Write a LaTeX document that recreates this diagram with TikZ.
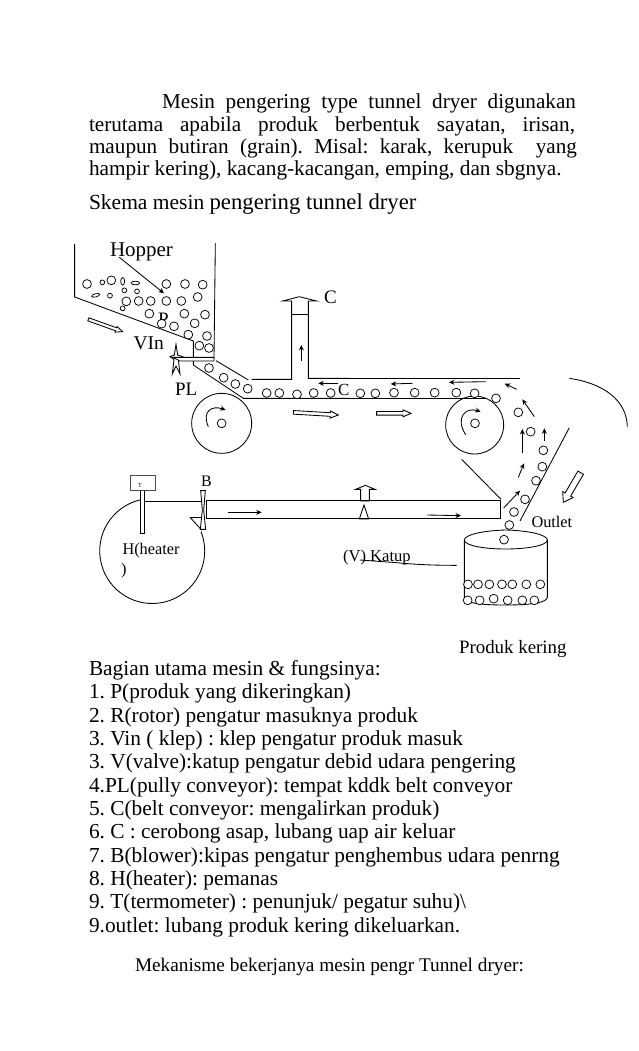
\documentclass[tikz,border=0pt]{standalone}
\usepackage{fontspec}
\setmainfont{Liberation Serif}
\usetikzlibrary{calc,arrows.meta}
\tikzset{
  txt/.style={anchor=base west,inner sep=0pt,outer sep=0pt,font=\fontsize{#1}{#1}\selectfont\frenchspacing},
  ln/.style={line width=0.85pt,line join=miter},
  ball/.style={draw,line width=0.75pt,fill=white},
  arr/.style={line width=0.85pt,-{Stealth[length=5.5pt,width=5pt]}},
  zone1/.style={shift={(60pt,-230pt)},x=.33333pt,y=-.33333pt},
  zone2/.style={shift={(340pt,-360pt)},x=.33333pt,y=-.33333pt},
  zone3/.style={shift={(90pt,-450pt)},x=.33333pt,y=-.33333pt},
  zone4/.style={shift={(330pt,-480pt)},x=.33333pt,y=-.33333pt},
}
\newcommand\hollowarrow[5]{%
  \coordinate (ha) at #1; \coordinate (hb) at #2;
  \coordinate (hm) at ($(hb)!#5!(ha)$);
  \draw[ln,fill=white] ($(ha)!#3!90:(hb)$) -- ($(hm)!#3!90:(hb)$) -- ($(hm)!#4!90:(hb)$) -- (hb)
    -- ($(hm)!#4!-90:(hb)$) -- ($(hm)!#3!-90:(hb)$) -- ($(ha)!#3!-90:(hb)$) -- cycle;}
\begin{document}
\begin{tikzpicture}[x=1pt,y=-1pt]
\useasboundingbox[fill=white] (0,0) rectangle (638,1051);
% body text
\node[txt=21.2] (p1) at (162,109) {\makebox[414pt][s]{Mesin pengering type tunnel dryer digunakan}};
\node[txt=21.2] (p2) at (89,131.5) {\makebox[486pt][s]{terutama apabila produk berbentuk sayatan, irisan,}};
\node[txt=21.2] (p3) at (89,154) {\makebox[488pt][s]{maupun butiran (grain). Misal: karak, kerupuk\ \ yang}};
\node[txt=21.3] (p4) at (89,175.5) {hampir kering), kacang-kacangan, emping, dan sbgnya.};
\node[txt=21.5] (p5) at (89,209) {Skema mesin {\fontsize{22.7}{22.7}\selectfont pengering tunnel dryer}};
% list
\node[txt=21.35] (l0) at (89,675) {Bagian utama mesin \& fungsinya:};
\node[txt=21.35] (l1) at (89,698) {1. P(produk yang dikeringkan)};
\node[txt=21.35] (l2) at (89,722) {2. R(rotor) pengatur masuknya produk};
\node[txt=21.35] (l3) at (89,745) {3. Vin ( klep) : klep pengatur produk masuk};
\node[txt=21.35] (l4) at (89,768) {3. V(valve):katup pengatur debid udara pengering};
\node[txt=21.35] (l5) at (89,792) {4.PL(pully conveyor): tempat kddk belt conveyor};
\node[txt=21.35] (l6) at (89,815) {5. C(belt conveyor: mengalirkan produk)};
\node[txt=21.35] (l7) at (89,838) {6. C : cerobong asap, lubang uap air keluar};
\node[txt=21.35] (l8) at (89,862) {7. B(blower):kipas pengatur penghembus udara penrng};
\node[txt=21.35] (l9) at (89,885) {8. H(heater): pemanas};
\node[txt=21.35] (l10) at (89,908) {9. T(termometer) : penunjuk/ pegatur suhu)\textbackslash};
\node[txt=21.35] (l11) at (89,932) {9.outlet: lubang produk kering dikeluarkan.};
\node[txt=19.3] (l12) at (135,971) {Mekanisme bekerjanya mesin pengr Tunnel dryer:};
% labels
\node[txt=21] (hop) at (110,256) {Hopper};
\node[txt=19] (P) at (158,325) {P};
\node[txt=19.5] (vin) at (133.5,349) {VIn};
\node[txt=19] (pl) at (175,395) {PL};
\node[txt=19] (c1) at (324,303) {C};
\node[txt=17] (c2) at (338,395) {C};
\node[txt=16] (b) at (201,486) {B};
\node[txt=16.3] (h1) at (122.5,554) {H(heater};
\node[txt=16.3] (h2) at (121,574) {)};
\node[txt=16.3] (out) at (531.5,527) {Outlet};
\node[txt=16.6] (kat) at (343,561) {(V) Katup};
\node[txt=18.9] (kering) at (459,653) {Produk kering};
\node[txt=6] (tt) at (138,487) {T};
% zone 1 : hopper and chimney
\begin{scope}[zone1]
\draw[ln] (44,42) -- (44,201) -- (400,333) -- (400,405) -- (550,505) -- (870,505);
\draw[ln] (466,40) -- (462,385) -- (400,385);
\draw[ln] (468,392) -- (565,450);
\draw[ln] (575,448) -- (695,448) -- (695,253) -- (695,213) -- (668,213) -- (718,200) -- (770,213) -- (745,213) -- (745,445) -- (870,445);
\draw[ln] (695,253) -- (745,253);
\draw[arr] (178,82) -- (312,190);
\hollowarrow{(85,268)}{(188,305)}{1.6pt}{3pt}{7pt}
\hollowarrow{(700,547)}{(835,555)}{1.8pt}{3.5pt}{8pt}
\draw[arr] (724,392) -- (724,345);
\draw[arr] (835,460) -- (775,460);
% valve star
\draw[ln,fill=white] (348,343) -- (353,375) -- (368,380) -- (355,388) -- (360,432) -- (348,408) -- (337,432) -- (342,388) -- (330,380) -- (343,375) -- cycle;
\draw[ln,fill=white] (338,382) -- (462,382) -- (462,393) -- (360,393) -- cycle;
\foreach \x/\y in {81/162,154/151,319/162,375/162,428/164,199/214,236/213,272/213,319/213,364/213,413/201,268/251,373/251,435/254,305/281,342/289,404/280,385/314,441/318,418/347,447/354,447/414,491/443,526/462,563/476,620/489,658/489,711/493,761/489,812/489}
  \draw[ball] (\x,\y) circle[radius=4.4pt];
\foreach \x/\y in {127/157,150/197,193/181,231/184,188/235}
  \draw[ball] (\x,\y) circle[radius=2.4pt];
\draw[ball] (188,154) ellipse[x radius=2pt,y radius=3.8pt];
\draw[ball] (226,159) ellipse[x radius=4.2pt,y radius=1.8pt];
\draw[ball,rotate around={15:(107,196)}] (107,196) ellipse[x radius=4.2pt,y radius=1.6pt];
% left pulley
\draw[ln] (485,580) circle[radius=30pt];
\draw[ball] (485,580) circle[radius=4.4pt];
\draw[arr] (445,590) .. controls (425,545) and (455,525) .. (497,540);
\end{scope}
% zone 2 : right end of the belt and the outlet
\begin{scope}[zone2]
\draw[ln] (0,55) -- (540,55);
\draw[ln] (0,115) -- (440,115);
\draw[ln] (688,55) .. controls (790,70) and (860,120) .. (862,200);
\draw[ln] (404,195) circle[radius=29pt];
\draw[ball] (405,190) circle[radius=4.4pt];
\draw[arr] (377,224) .. controls (345,175) and (375,140) .. (422,155);
\draw[ln] (365,298) -- (483,418);
\draw[ln] (688,203) -- (540,483);
\draw[arr] (217,70) -- (152,72);
\draw[arr] (437,65) -- (327,67);
\draw[arr] (530,88) -- (494,71);
\draw[arr] (583,170) -- (547,118);
\draw[arr] (547,280) -- (547,207);
\draw[arr] (613,243) -- (613,205);
\draw[arr] (535,352) -- (552,310);
\draw[arr] (491,444) -- (540,392);
\hollowarrow{(110,160)}{(213,160)}{1.8pt}{3.5pt}{8pt}
\hollowarrow{(722,338)}{(670,427)}{3.2pt}{6pt}{9pt}
\foreach \x/\y in {61/100,106/100,162/98,224/98,284/98,349/98,404/100,468/115,535/157,572/215,610/271,607/320,588/362,555/418,522/456,508/495}
  \draw[ball] (\x,\y) circle[radius=4.4pt];
\end{scope}
% zone 3 : heater, blower, duct
\draw[ln] (144.9,499) arc[start angle=98,end angle=381.7,radius=52.5pt];
\begin{scope}[zone3]
\draw[ln] (165,153) -- (332,153);
\draw[ln] (300,202) -- (332,202);
\draw[ln] (300,202) -- (335,240);
\draw[ln,fill=white] (151,122) rectangle (163,250);
\draw[line width=.6pt,draw=black!70] (121,77) rectangle (195,122);
\draw[ln,fill=white] (332,122) -- (346,122) -- (341,180) -- (347,238) -- (331,238) -- (337,180) -- cycle;
\draw[ln] (1100,151) -- (350,151) -- (350,205) -- (1100,205);
\draw[arr] (415,187) -- (515,187);
\draw[ln,fill=white] (808,207) -- (836,207) -- (822,165) -- cycle;
\draw[ln,fill=white] (812,153) -- (812,118) -- (797,118) -- (826,106) -- (855,118) -- (838,118) -- (838,153) -- cycle;
\end{scope}
% zone 4 : duct end and tank
\begin{scope}[zone4]
\draw[ln] (0,61) -- (512,61) -- (512,115) -- (0,115);
\draw[arr] (292,105) -- (393,107);
\draw[ln] (527,150) .. controls (600,152) and (652,165) .. (652,180) .. controls (652,197) and (590,207) .. (527,207)
  .. controls (464,207) and (403,197) .. (403,180) .. controls (403,165) and (455,152) .. (527,150);
\draw[ln] (403,180) -- (403,360) (652,180) -- (652,352) .. controls (650,365) and (620,375) .. (527,375) .. controls (470,375) and (425,372) .. (403,360);
\draw[ln] (90,240) -- (200,248) .. controls (270,255) and (330,256) .. (380,256);
\foreach \x/\y in {522/179,414/313,444/313,478/313,516/313,547/313,589/313,631/313,413/361,449/361,491/356,533/361,577/361,613/361}
  \draw[ball] (\x,\y) circle[radius=4.4pt];
\end{scope}
\end{tikzpicture}
\end{document}
